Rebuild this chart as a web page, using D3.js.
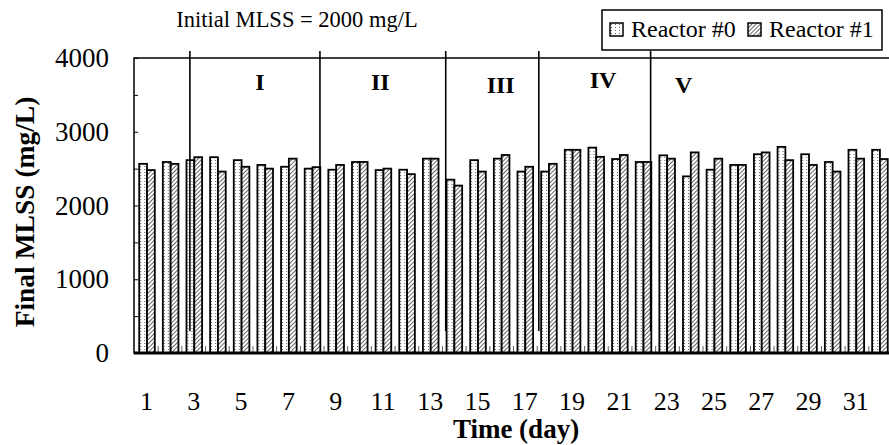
<!DOCTYPE html>
<html>
<head>
<meta charset="utf-8">
<script src="https://cdn.jsdelivr.net/npm/d3@7"></script>
<style>
  body { margin: 0; background: #fff; }
</style>
</head>
<body>
<div id="chart"></div>
<script>
let width = 889
let height = 445

// data
let days = d3.range(1, 33)
let reactor0 = [2565, 2590, 2615, 2655, 2615, 2550, 2525, 2500, 2485, 2590,
                2480, 2485, 2635, 2350, 2615, 2635, 2460, 2460, 2755, 2785,
                2630, 2590, 2680, 2395, 2485, 2550, 2695, 2795, 2695, 2590,
                2755, 2755]
let reactor1 = [2480, 2565, 2655, 2460, 2525, 2500, 2635, 2520, 2550, 2590,
                2500, 2425, 2635, 2270, 2460, 2685, 2525, 2565, 2755, 2660,
                2685, 2590, 2635, 2720, 2635, 2550, 2720, 2615, 2550, 2460,
                2635, 2630]
let seriesNames = ["Reactor #0", "Reactor #1"]
let yTicks = [0, 1000, 2000, 3000, 4000]
let xTickLabels = d3.range(1, 32, 2)
let phaseLines = [2.86, 8.35, 13.66, 17.59, 22.31]
let phaseLabels = ["I", "II", "III", "IV", "V"]
let phaseLabelDays = [5.82, 10.9, 15.98, 20.3, 23.7]

let margin = {left: 134, right: -3, top: 58, bottom: 92}
let serif = "Liberation Serif"

let svg = d3.select("#chart")
  .append("svg")
  .attr("width", width)
  .attr("height", height)
  .style("display", "block")

let defs = svg.append("defs")

let dots = defs.append("pattern")
  .attr("id", "dots")
  .attr("patternUnits", "userSpaceOnUse")
  .attr("width", 4)
  .attr("height", 3)
dots.append("rect").attr("width", 4).attr("height", 3).attr("fill", "#fff")
dots.append("rect").attr("x", 1).attr("y", 1).attr("width", 1).attr("height", 1).attr("fill", "#666")

let hatch = defs.append("pattern")
  .attr("id", "hatch")
  .attr("patternUnits", "userSpaceOnUse")
  .attr("width", 3)
  .attr("height", 3)
  .attr("patternTransform", "rotate(45)")
hatch.append("rect").attr("width", 3).attr("height", 3).attr("fill", "#fff")
hatch.append("line").attr("x1", 0).attr("y1", 0).attr("x2", 0).attr("y2", 3)
  .attr("stroke", "#333").attr("stroke-width", 1.5)

let fills = ["url(#dots)", "url(#hatch)"]

let x0 = margin.left
let x1 = width - margin.right
let y0 = height - margin.bottom
let y1 = margin.top

let xScale = d3.scaleBand()
  .domain(days)
  .range([x0, x1])
  .paddingInner(0.34)
  .paddingOuter(0.2)

// continuous day position, day d centred in its band
let step = (x1 - x0) / days.length
let dayPos = d3.scaleLinear()
  .domain([0.5, days.length + 0.5])
  .range([x0, x1])

let subScale = d3.scaleBand()
  .domain([0, 1])
  .range([0, xScale.bandwidth()])

let yScale = d3.scaleLinear()
  .domain([0, 4000])
  .range([y0, y1])

// plot frame
svg.append("rect")
  .attr("x", x0).attr("y", y1)
  .attr("width", x1 - x0).attr("height", y0 - y1)
  .attr("fill", "none").attr("stroke", "#000").attr("stroke-width", 1.5)

// bars
let groups = svg.selectAll("g.day")
  .data(days)
  .enter()
  .append("g")
  .attr("class", "day")
  .attr("transform", d => `translate(${xScale(d) + step * 0.02},0)`)

groups.selectAll("rect")
  .data((d, i) => [reactor0[i], reactor1[i]])
  .enter()
  .append("rect")
  .attr("x", (d, i) => subScale(i))
  .attr("y", d => yScale(d))
  .attr("width", subScale.bandwidth())
  .attr("height", d => y0 - yScale(d))
  .attr("fill", (d, i) => fills[i])
  .attr("stroke", "#000")
  .attr("stroke-width", 1.8)

// y axis, ticks inside
let yAxis = d3.axisRight(yScale)
  .tickValues(d3.range(0, 4001, 500))
  .tickSize(4)
  .tickFormat("")
svg.append("g")
  .attr("transform", `translate(${x0},0)`)
  .call(yAxis)
  .call(g => g.select(".domain").remove())
  .call(g => g.selectAll("line").attr("stroke", "#000"))

svg.selectAll("text.ytick")
  .data(yTicks)
  .enter()
  .append("text")
  .attr("class", "ytick")
  .attr("x", 109)
  .attr("y", d => yScale(d) + 9)
  .attr("text-anchor", "end")
  .attr("font-family", serif)
  .attr("font-size", 27)
  .text(d => d)

// x axis, ticks between days pointing up
let xAxis = d3.axisTop(dayPos)
  .tickValues(d3.range(1.5, days.length + 0.5, 1))
  .tickSize(7)
  .tickFormat("")
svg.append("g")
  .attr("transform", `translate(0,${y0})`)
  .call(xAxis)
  .call(g => g.select(".domain").remove())
  .call(g => g.selectAll("line").attr("stroke", "#666"))

svg.append("line")
  .attr("x1", x0).attr("x2", x1)
  .attr("y1", y0).attr("y2", y0)
  .attr("stroke", "#000").attr("stroke-width", 3)

svg.selectAll("text.xtick")
  .data(xTickLabels)
  .enter()
  .append("text")
  .attr("class", "xtick")
  .attr("x", d => xScale(d) + xScale.bandwidth() / 2)
  .attr("y", 410)
  .attr("text-anchor", "middle")
  .attr("font-family", serif)
  .attr("font-size", 26)
  .text(d => d)

// phase divisions
svg.selectAll("line.phase")
  .data(phaseLines)
  .enter()
  .append("line")
  .attr("class", "phase")
  .attr("x1", d => dayPos(d)).attr("x2", d => dayPos(d))
  .attr("y1", y1 - 7).attr("y2", 331)
  .attr("stroke", "#000").attr("stroke-width", 1.6)

svg.selectAll("text.phase")
  .data(phaseLabels)
  .enter()
  .append("text")
  .attr("class", "phase")
  .attr("x", (d, i) => dayPos(phaseLabelDays[i]))
  .attr("y", (d, i) => [90, 90, 93, 88, 93][i])
  .attr("text-anchor", "middle")
  .attr("font-family", serif)
  .attr("font-size", 24)
  .attr("font-weight", "bold")
  .text(d => d)

// titles
svg.append("text")
  .attr("x", 297).attr("y", 27)
  .attr("text-anchor", "middle")
  .attr("font-family", serif)
  .attr("font-size", 22.5)
  .text("Initial MLSS = 2000 mg/L")

svg.append("text")
  .attr("x", 516).attr("y", 438)
  .attr("text-anchor", "middle")
  .attr("font-family", serif)
  .attr("font-size", 27)
  .attr("font-weight", "bold")
  .text("Time (day)")

svg.append("text")
  .attr("transform", "translate(34,212) rotate(-90)")
  .attr("text-anchor", "middle")
  .attr("font-family", serif)
  .attr("font-size", 27.5)
  .attr("font-weight", "bold")
  .text("Final MLSS (mg/L)")

// legend
svg.append("rect")
  .attr("x", 602).attr("y", 10)
  .attr("width", 280).attr("height", 40)
  .attr("fill", "#fff").attr("stroke", "#000").attr("stroke-width", 1.5)

let legendX = [610, 748]
let items = svg.selectAll("g.leg")
  .data(seriesNames)
  .enter()
  .append("g")
  .attr("class", "leg")
  .attr("transform", (d, i) => `translate(${legendX[i]},23)`)

items.append("rect")
  .attr("width", 13).attr("height", 13)
  .attr("fill", (d, i) => fills[i])
  .attr("stroke", "#000").attr("stroke-width", 1.5)

items.append("text")
  .attr("x", 21).attr("y", 14)
  .attr("font-family", serif)
  .attr("font-size", 24)
  .text(d => d)
</script>
</body>
</html>
